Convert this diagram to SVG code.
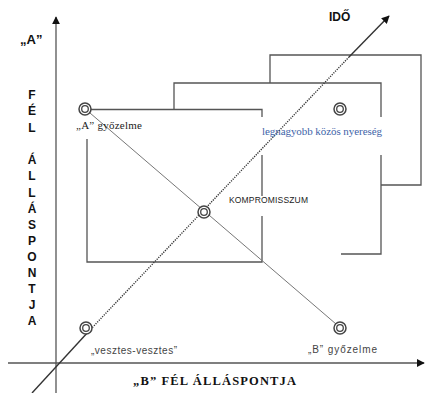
<svg xmlns="http://www.w3.org/2000/svg" width="426" height="393" viewBox="0 0 426 393">
<defs>
<style>
.ax{stroke:#555;stroke-width:1.3;fill:none}
.fr{stroke:#555;stroke-width:1.3;fill:none}
.diag{stroke:#777;stroke-width:1;fill:none}
.time{stroke:#333;stroke-width:1.4;fill:none}
.dot{stroke:#333;stroke-width:1.4;fill:none;stroke-dasharray:1.2 1.2}
.co{stroke:#444;stroke-width:1.5;fill:#fff}
.ci{stroke:#444;stroke-width:1.3;fill:none}
.vb{font-family:"Liberation Sans",Arial,sans-serif;font-weight:bold;font-size:12px;fill:#111;text-anchor:middle}
.ser{font-family:"Liberation Serif","Times New Roman",serif;font-size:11px;fill:#222}
.san{font-family:"Liberation Sans",Arial,sans-serif;font-size:10px;fill:#444}
</style>
<marker id="ah" viewBox="0 0 10 10" refX="9" refY="5" markerWidth="8" markerHeight="8" markerUnits="userSpaceOnUse" orient="auto"><path d="M0,0 L10,5 L0,10 z" fill="#111"/></marker>
</defs>
<g id="connectors">
<line class="ax" x1="56" y1="393" x2="56" y2="17" marker-end="url(#ah)"/>
<line class="ax" x1="8" y1="363" x2="424" y2="363" marker-end="url(#ah)"/>
<!-- frames -->
<path class="fr" d="M270,83 V55 H421 V185 H381"/>
<path class="fr" d="M174,109 V83 H381 V117 M381,155 V254 H341"/>
<path class="fr" d="M91,109.5 H262 V117 M262,155 V196 M262,216 V262 H87 V139"/>
<line class="diag" x1="90" y1="113" x2="336" y2="324"/>
<line class="time" x1="32" y1="393" x2="89" y2="331"/>
<line class="dot" x1="89" y1="331" x2="349" y2="57"/>
<line class="time" x1="349" y1="57" x2="389" y2="16" marker-end="url(#ah)"/>
</g>
<g id="n_a_win">
<circle class="co" cx="85" cy="109" r="6"/><circle class="ci" cx="85" cy="109" r="3.3"/>
<text class="ser" x="76" y="129" textLength="66">„A” győzelme</text>
</g>
<g id="n_max">
<circle class="co" cx="340" cy="109" r="6"/><circle class="ci" cx="340" cy="109" r="3.3"/>
<text class="ser" x="262" y="135" textLength="120" style="fill:#3e64a8">legnagyobb közös nyereség</text>
</g>
<g id="n_komp">
<circle class="co" cx="204" cy="212" r="6"/><circle class="ci" cx="204" cy="212" r="3.3"/>
<text class="san" x="229" y="203" font-size="8.5" textLength="79" style="font-size:8.5px;fill:#222">KOMPROMISSZUM</text>
</g>
<g id="n_lose">
<circle class="co" cx="86" cy="328" r="6"/><circle class="ci" cx="86" cy="328" r="3.3"/>
<text class="san" x="91" y="354" textLength="86">„vesztes-vesztes”</text>
</g>
<g id="n_b_win">
<circle class="co" cx="340" cy="328" r="6"/><circle class="ci" cx="340" cy="328" r="3.3"/>
<text class="san" x="308" y="353" textLength="69">„B” győzelme</text>
</g>
<g id="labels">
<text x="20" y="44" style="font-family:'Liberation Sans',Arial,sans-serif;font-weight:bold;font-size:13px;fill:#111">„A”</text>
<text x="329" y="21" style="font-family:'Liberation Sans',Arial,sans-serif;font-weight:bold;font-size:12px;fill:#111">IDŐ</text>
<text x="133" y="385" textLength="163" style="font-family:'Liberation Serif','Times New Roman',serif;font-weight:bold;font-size:12.5px;fill:#111">„B” FÉL ÁLLÁSPONTJA</text>
<text class="vb" x="32" y="99">F</text>
<text class="vb" x="32" y="115">É</text>
<text class="vb" x="32" y="131.5">L</text>
<text class="vb" x="32" y="164">Á</text>
<text class="vb" x="32" y="180">L</text>
<text class="vb" x="32" y="196.5">L</text>
<text class="vb" x="32" y="212.5">Á</text>
<text class="vb" x="32" y="228.5">S</text>
<text class="vb" x="32" y="244.5">P</text>
<text class="vb" x="32" y="260.5">O</text>
<text class="vb" x="32" y="276.5">N</text>
<text class="vb" x="32" y="292.5">T</text>
<text class="vb" x="32" y="308.5">J</text>
<text class="vb" x="32" y="325">A</text>
</g>
</svg>
